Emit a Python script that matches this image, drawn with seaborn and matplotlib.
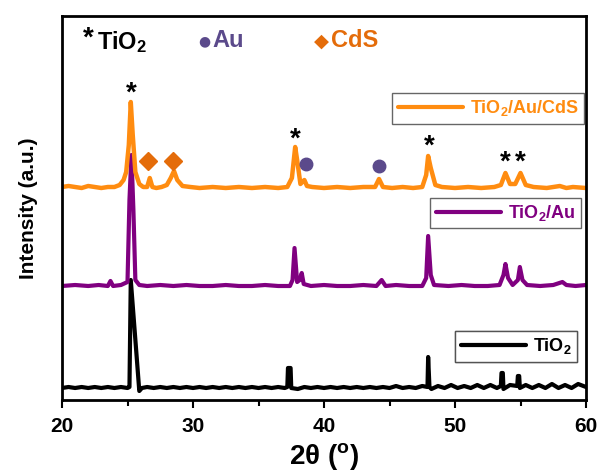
import numpy as np
import pandas as pd
import matplotlib
matplotlib.use('Agg')
import matplotlib.pyplot as plt
import seaborn as sns

# intensities (arbitrary units, traces already offset)
cds_x = [20, 20.5, 21, 21.5, 22, 22.5, 23, 23.5, 24, 24.4, 24.7, 24.9, 25.1, 25.25, 25.4, 25.6, 25.9,
         26.2, 26.5, 26.7, 26.9, 27.2, 27.6, 28.0, 28.3, 28.55, 28.8, 29.2, 29.8, 30.5, 31.5, 32.5,
         33.5, 34.5, 35.5, 36.5, 37.2, 37.55, 37.8, 37.95, 38.2, 38.5, 38.7, 39.1, 40, 41, 42, 43,
         43.9, 44.2, 44.5, 45.2, 46, 46.8, 47.5, 47.8, 47.95, 48.15, 48.5, 49, 50, 51, 52, 53, 53.5,
         53.85, 54.2, 54.6, 55.0, 55.4, 56, 57, 58, 58.5, 59, 60]
cds_y = [213, 214, 213, 212, 214, 213, 212, 213, 213, 215, 220, 228, 255, 298, 265, 228, 216,
         213, 213, 222, 213, 212, 213, 215, 222, 229, 220, 214, 213, 212, 213, 212,
         213, 212, 213, 212, 213, 222, 253, 240, 216, 220, 214, 213, 212, 213, 212, 213,
         213, 221, 213, 212, 213, 212, 213, 225, 244, 232, 215, 213, 212, 213, 212, 213, 215,
         227, 216, 216, 227, 215, 213, 212, 214, 212, 213, 212]

au_x = [20, 21, 22, 22.8, 23.5, 23.7, 23.9, 24.5, 25.0, 25.15, 25.3, 25.45, 25.6, 25.9, 26.5, 27.5,
        28.5, 29.5, 30.5, 31.5, 32.5, 33.5, 34.5, 35.5, 36.5, 37.4, 37.6, 37.75, 37.95, 38.15, 38.3,
        38.45, 39, 40, 41, 42, 43, 44, 44.4, 44.7, 45.5, 46.5, 47.5, 47.8, 47.95, 48.15, 48.4, 49.5,
        50.5, 51.5, 52.5, 53.4, 53.7, 53.85, 54.05, 54.4, 54.8, 54.95, 55.15, 55.5, 56.5, 57.5, 58.2,
        58.5, 59.2, 60]
au_y = [114, 115, 114, 115, 114, 119, 114, 115, 118, 200, 245, 190, 120, 115, 114, 115,
        114, 115, 114, 114, 115, 114, 114, 115, 114, 114, 120, 152, 118, 120, 127,
        116, 114, 115, 114, 114, 115, 114, 120, 114, 115, 114, 114, 122, 164, 125, 115, 114,
        115, 114, 114, 115, 125, 136, 122, 115, 120, 133, 120, 115, 114, 115, 118,
        115, 114, 115]

tio2_x = [20, 20.5, 21, 21.5, 22, 22.5, 23, 23.5, 24, 24.5, 25.0, 25.15, 25.25, 25.9, 26.1, 26.5,
          27, 27.5, 28, 28.5, 29, 29.5, 30, 30.5, 31, 31.5, 32, 32.5, 33, 33.5, 34, 34.5, 35, 35.5,
          36, 36.5, 37.0, 37.2, 37.25, 37.45, 37.5, 38, 38.5, 39, 39.5, 40, 40.5, 41, 41.5, 42, 42.5,
          43, 43.5, 44, 44.5, 45, 45.5, 46, 46.5, 47, 47.5, 47.9, 47.95, 48.05, 48.2, 48.7, 49.2,
          49.7, 50.2, 50.7, 51.2, 51.7, 52.2, 52.7, 53.2, 53.5, 53.55, 53.65, 53.7, 54.2, 54.75,
          54.8, 54.9, 54.95, 55.4, 55.9, 56.4, 56.9, 57.4, 57.9, 58.4, 58.9, 59.4, 60]
tio2_y = [12, 13, 12, 13, 12, 13, 12, 13, 12, 13, 12, 13, 120, 9, 12, 13,
          12, 13, 12, 13, 12, 13, 12, 13, 12, 13, 12, 13, 12, 13, 12, 13, 12, 13,
          12, 13, 12, 13, 32, 32, 12, 11, 13, 12, 13, 12, 13, 12, 13, 12, 13,
          12, 13, 12, 13, 12, 14, 12, 13, 12, 14, 13, 43, 13, 11, 14, 12,
          15, 12, 14, 12, 15, 12, 15, 12, 14, 27, 27, 11, 15, 14,
          24, 24, 12, 15, 12, 15, 12, 16, 12, 15, 12, 16, 13]

# phase markers
tio2_mark_x = [25.3, 37.8, 48.0, 53.85, 54.95]
tio2_mark_y = [306, 260, 253, 237, 237]
au_mark_x = [38.6, 44.2]
au_mark_y = [236, 234]
cds_mark_x = [26.6, 28.5]
cds_mark_y = [239, 239]

sns.set_style('ticks')
plt.rcParams['font.family'] = ['Liberation Sans', 'DejaVu Sans']
plt.rcParams['font.weight'] = 'bold'
plt.rcParams['text.color'] = 'black'
plt.rcParams['xtick.color'] = 'black'
plt.rcParams['axes.labelcolor'] = 'black'
plt.rcParams['mathtext.fontset'] = 'custom'
plt.rcParams['mathtext.rm'] = 'Liberation Sans:bold'
plt.rcParams['mathtext.it'] = 'Liberation Sans:bold'
plt.rcParams['mathtext.bf'] = 'Liberation Sans:bold'

orange = '#FF8C10'
purple = '#800080'
au_col = '#5B4A8B'
cds_col = '#E46C0A'

fig = plt.figure(figsize=(5.98, 4.73), dpi=100)
ax = fig.add_axes([62 / 598, 73 / 473, 524 / 598, 384 / 473])

df_cds = pd.DataFrame({'x': cds_x, 'y': cds_y})
df_au = pd.DataFrame({'x': au_x, 'y': au_y})
df_ti = pd.DataFrame({'x': tio2_x, 'y': tio2_y})

sns.lineplot(data=df_ti, x='x', y='y', ax=ax, color='black', lw=3, sort=False)
sns.lineplot(data=df_au, x='x', y='y', ax=ax, color=purple, lw=3, sort=False)
sns.lineplot(data=df_cds, x='x', y='y', ax=ax, color=orange, lw=3.2, sort=False)

for mx, my in zip(tio2_mark_x, tio2_mark_y):
    ax.text(mx, my, '*', ha='center', va='center', fontsize=20, fontweight='bold', color='black')
ax.plot(au_mark_x, au_mark_y, 'o', color=au_col, ms=9, ls='none')
ax.plot(cds_mark_x, cds_mark_y, 'D', color=cds_col, ms=9, ls='none')

# header key
ax.text(0.04, 0.94, '*', transform=ax.transAxes, fontsize=20, fontweight='bold',
        color='black', va='center')
ax.text(0.066, 0.933, 'TiO$_2$', transform=ax.transAxes, fontsize=17, fontweight='bold',
        color='black', va='center')
ax.text(0.26, 0.935, '\u25cf', transform=ax.transAxes, fontsize=10,
        color=au_col, va='center', family=['DejaVu Sans'])
ax.text(0.287, 0.935, 'Au', transform=ax.transAxes, fontsize=17, fontweight='bold',
        color=au_col, va='center')
ax.text(0.48, 0.935, '\u25c6', transform=ax.transAxes, fontsize=14,
        color=cds_col, va='center', family=['DejaVu Sans'])
ax.text(0.513, 0.935, 'CdS', transform=ax.transAxes, fontsize=17, fontweight='bold',
        color=cds_col, va='center')

# three separate legend boxes
def box(color, label, anchor, hl):
    h = plt.Line2D([], [], color=color, lw=3)
    leg = ax.legend([h], [label], loc='upper right', bbox_to_anchor=anchor, frameon=True,
                    fancybox=False, fontsize=13, labelcolor=color, handlelength=hl,
                    borderpad=0.3, handletextpad=0.4, borderaxespad=0)
    leg.get_frame().set_edgecolor('#404040')
    leg.get_frame().set_linewidth(1)
    ax.add_artist(leg)

box(orange, 'TiO$_2$/Au/CdS', (0.997, 0.80), 3.6)
box(purple, 'TiO$_2$/Au', (0.99, 0.527), 3.6)
box('black', 'TiO$_2$', (0.983, 0.18), 3.6)

ax.set_xlim(20, 60)
ax.set_ylim(0, 384)
ax.set_xticks([20, 30, 40, 50, 60])
ax.set_xticks([25, 35, 45, 55], minor=True)
ax.set_yticks([])
ax.tick_params(axis='x', which='major', length=6, width=1.5, labelsize=15, direction='out',
               pad=6, colors='black')
ax.tick_params(axis='x', which='minor', length=4, width=1.5, direction='out', colors='black')
for lab in ax.get_xticklabels():
    lab.set_fontweight('bold')
for s in ax.spines.values():
    s.set_visible(True)
    s.set_linewidth(2)
    s.set_color('black')

ax.set_xlabel('2\u03b8 ($^{o}$)', fontsize=20, fontweight='bold', labelpad=4)
ax.set_ylabel('Intensity (a.u.)', fontsize=15, fontweight='bold', labelpad=17)

fig.savefig('out.png', dpi=100)
